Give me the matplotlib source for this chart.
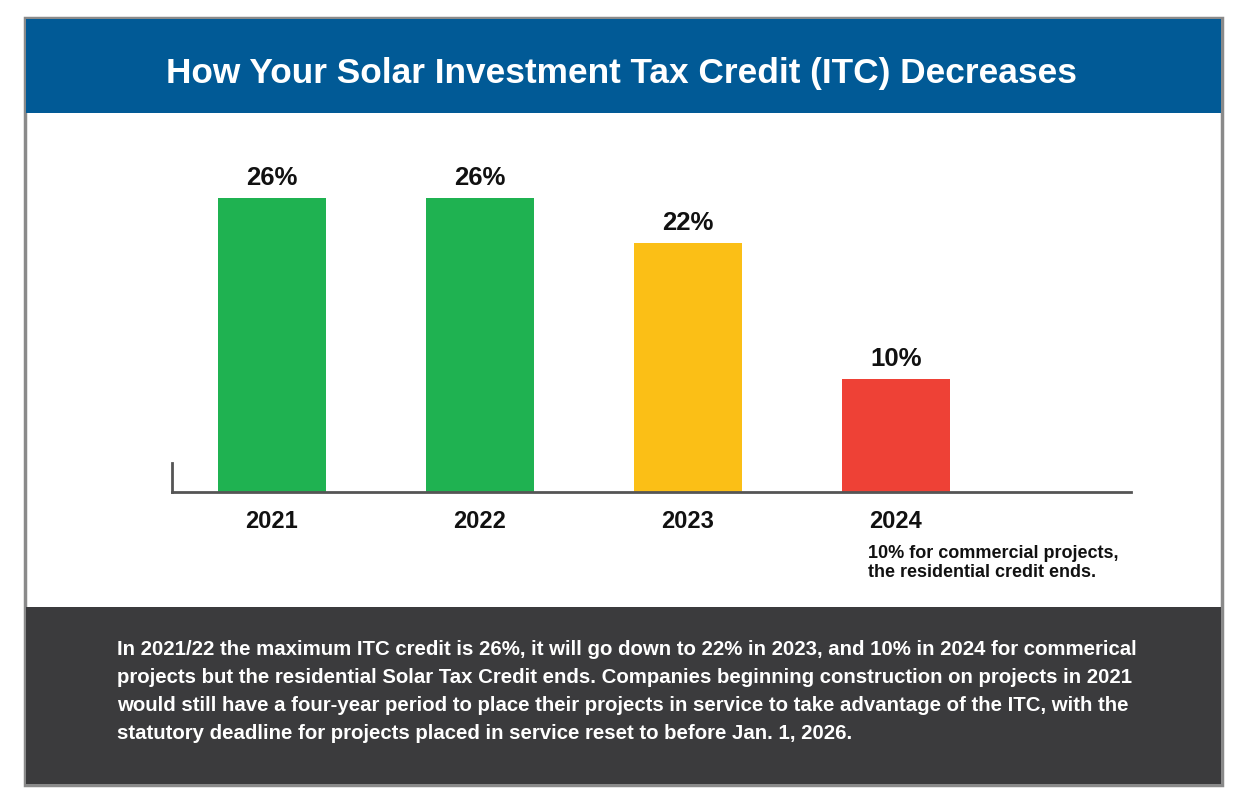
import matplotlib.pyplot as plt
from matplotlib.patches import Rectangle

W, H = 1249, 806

years = ['2021', '2022', '2023', '2024']
credit = [26, 26, 22, 10]
bar_colors = ['#1fb251', '#1fb251', '#fbbf16', '#ee4136']
title = 'How Your Solar Investment Tax Credit (ITC) Decreases'
note_lines = ['10% for commercial projects,', 'the residential credit ends.']
footer_lines = [
    'In 2021/22 the maximum ITC credit is 26%, it will go down to 22% in 2023, and 10% in 2024 for commerical',
    'projects but the residential Solar Tax Credit ends. Companies beginning construction on projects in 2021',
    'would still have a four-year period to place their projects in service to take advantage of the ITC, with the',
    'statutory deadline for projects placed in service reset to before Jan. 1, 2026.',
]

plt.rcParams['font.family'] = ['Liberation Sans', 'DejaVu Sans']


def fx(x):
    return x / W


def fy(y):
    return 1 - y / H


fig = plt.figure(figsize=(W / 100, H / 100), dpi=100)
fig.patch.set_facecolor('white')

# frame, header band, footer band
fig.patches.append(Rectangle((fx(25), fy(785)), fx(1222) - fx(25), fy(18) - fy(785),
                             transform=fig.transFigure, facecolor='white',
                             edgecolor='#8a8a8a', linewidth=2.5, zorder=0))
fig.patches.append(Rectangle((fx(26), fy(113)), fx(1221) - fx(26), fy(19) - fy(113),
                             transform=fig.transFigure, facecolor='#015a96',
                             edgecolor='none', zorder=1))
fig.patches.append(Rectangle((fx(26), fy(784)), fx(1221) - fx(26), fy(607) - fy(784),
                             transform=fig.transFigure, facecolor='#3b3b3d',
                             edgecolor='none', zorder=1))

fig.text(fx(621), fy(74), title, color='white', fontsize=25.4, fontweight='bold',
         ha='center', va='center')

# bar chart
ax = fig.add_axes([fx(172), fy(492), fx(1131) - fx(172), fy(153) - fy(492)])
ax.set_zorder(3)
ax.set_facecolor('none')
xpos = list(range(len(years)))
ax.bar(xpos, credit, width=0.52, color=bar_colors, zorder=2)
for x, v in zip(xpos, credit):
    ax.text(x, v + 0.75, f'{v}%', ha='center', va='bottom', fontsize=18.5,
            fontweight='bold', color='#111111')

ax.set_xlim(-0.48, 4.13)
ax.set_ylim(0, 30)
ax.set_xticks(xpos)
ax.set_xticklabels(years, fontsize=17, fontweight='bold', color='#111111')
ax.tick_params(axis='x', length=0, pad=13)
ax.set_yticks([])
for s in ['top', 'right']:
    ax.spines[s].set_visible(False)
ax.spines['bottom'].set_color('#555555')
ax.spines['bottom'].set_linewidth(2)
ax.spines['left'].set_color('#555555')
ax.spines['left'].set_linewidth(2)
ax.spines['left'].set_bounds(0, 2.6)

for i, line in enumerate(note_lines):
    fig.text(fx(868), fy(558 + i * 19), line, fontsize=13, fontweight='bold',
             color='#111111', ha='left', va='baseline')

for i, line in enumerate(footer_lines):
    fig.text(fx(117), fy(655 + i * 28), line, fontsize=14.7, fontweight='bold',
             color='white', ha='left', va='baseline')

fig.savefig('out.png', dpi=100)
